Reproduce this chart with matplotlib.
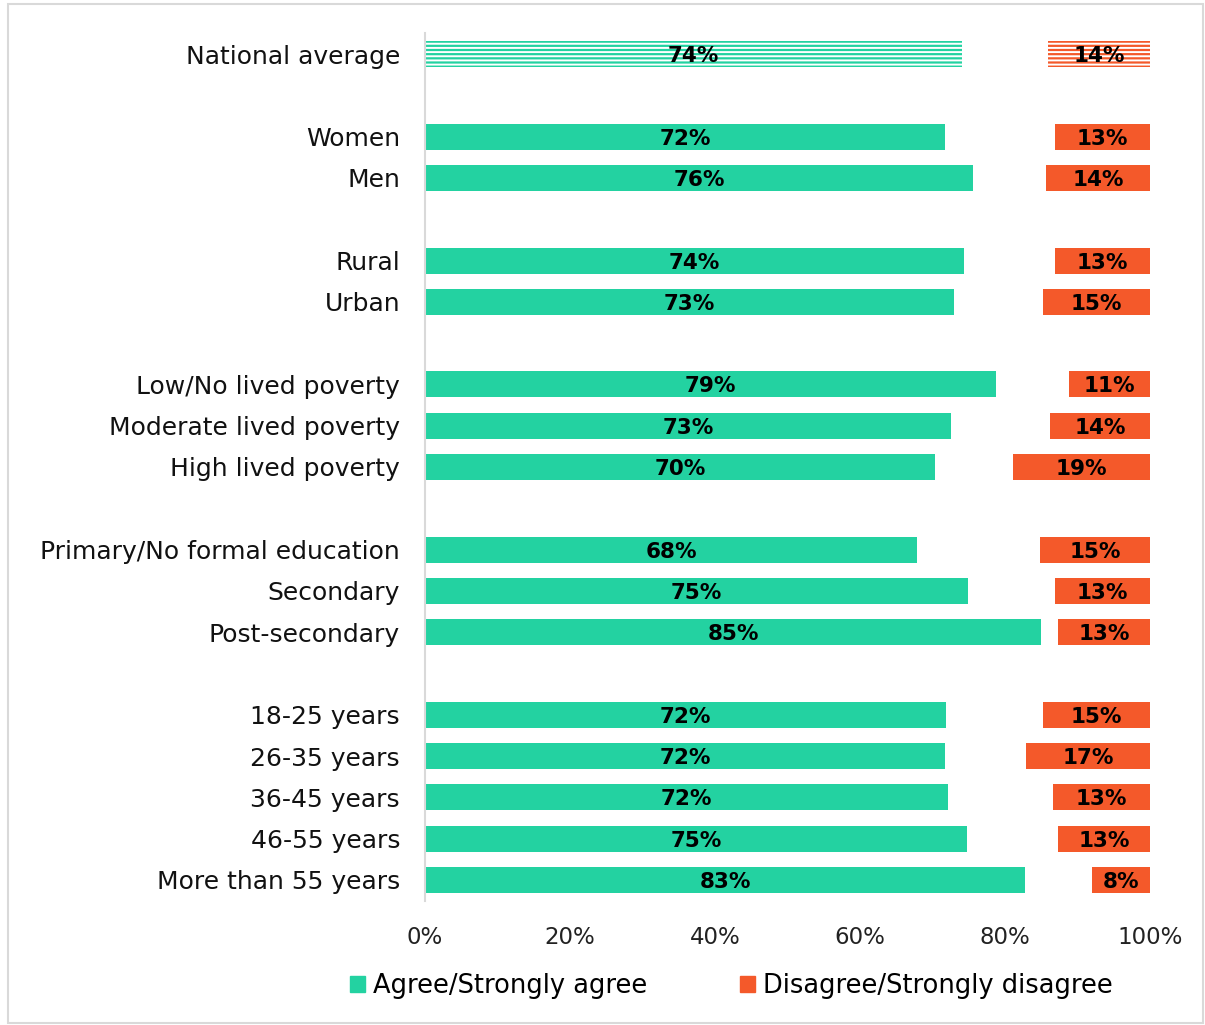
import matplotlib.pyplot as plt
from matplotlib.patches import Rectangle, Patch

# groups of rows, blank slot between each group
groups = [
    ["National average"],
    ["Women", "Men"],
    ["Rural", "Urban"],
    ["Low/No lived poverty", "Moderate lived poverty", "High lived poverty"],
    ["Primary/No formal education", "Secondary", "Post-secondary"],
    ["18-25 years", "26-35 years", "36-45 years", "46-55 years", "More than 55 years"],
]
agree = [74.1, 71.7, 75.6, 74.3, 72.9, 78.8, 72.6, 70.4, 67.9, 74.9, 85.0, 71.9, 71.7, 72.1, 74.8, 82.8]
disagree = [14.1, 13.1, 14.4, 13.1, 14.8, 11.2, 13.8, 18.9, 15.2, 13.1, 12.7, 14.8, 17.1, 13.4, 12.7, 8.0]
xticks = [0, 20, 40, 60, 80, 100]

green = "#23D2A1"
orange = "#F4592A"

plt.rcParams["font.family"] = ["DejaVu Sans"]
plt.rcParams["hatch.color"] = "white"
plt.rcParams["hatch.linewidth"] = 1.4

# work out slot positions for every row
labels = []
pos = []
slot = 0
for g in groups:
    for name in g:
        labels.append(name)
        pos.append(slot)
        slot += 1
    slot += 1

fig = plt.figure(figsize=(12.05, 10.25), dpi=100)
fig.patches.append(Rectangle((8 / 1205, 2 / 1025), 1195 / 1205, 1019 / 1025,
                             transform=fig.transFigure, fill=False,
                             edgecolor="#D9D9D9", linewidth=1.5))
ax = fig.add_axes([425 / 1205, 1 - 900.6 / 1025, 725 / 1205, 867.2 / 1025])

h = 0.63
for i in range(len(labels)):
    y = pos[i]
    d_left = 100 - disagree[i]
    if i == 0:
        ax.barh(y, agree[i], height=h, color=green, edgecolor="white", linewidth=0, hatch="----")
        ax.barh(y, disagree[i], left=d_left, height=h, color=orange, edgecolor="white", linewidth=0, hatch="----")
    else:
        ax.barh(y, agree[i], height=h, color=green, linewidth=0)
        ax.barh(y, disagree[i], left=d_left, height=h, color=orange, linewidth=0)
    ax.text(agree[i] / 2, y + 0.05, "%d%%" % round(agree[i]), ha="center", va="center",
            fontsize=15.5, fontweight="bold", color="black")
    ax.text(d_left + disagree[i] / 2, y + 0.05, "%d%%" % round(disagree[i]), ha="center", va="center",
            fontsize=15.5, fontweight="bold", color="black")

ax.set_ylim(pos[-1] + 0.5, -0.5)
ax.set_xlim(0, 100)
ax.set_yticks(pos)
ax.set_yticklabels(labels, fontsize=18, color="#111111")
ax.set_xticks(xticks)
ax.set_xticklabels(["%d%%" % t for t in xticks], fontsize=16.5, color="#222222")
ax.tick_params(axis="y", length=0, pad=18)
ax.tick_params(axis="x", length=0, pad=18)
for s in ["top", "right", "bottom"]:
    ax.spines[s].set_visible(False)
ax.spines["left"].set_color("#D9D9D9")
ax.spines["left"].set_linewidth(1.5)

handles = [Patch(color=green, label="Agree/Strongly agree"),
           Patch(color=orange, label="Disagree/Strongly disagree")]
fig.legend(handles=handles, loc="center", bbox_to_anchor=(731 / 1205, 1 - 986 / 1025),
           ncol=2, frameon=False, fontsize=18.5, handlelength=0.6, handleheight=0.6,
           handletextpad=0.3, columnspacing=3.6)

fig.savefig("out.png", dpi=100)
